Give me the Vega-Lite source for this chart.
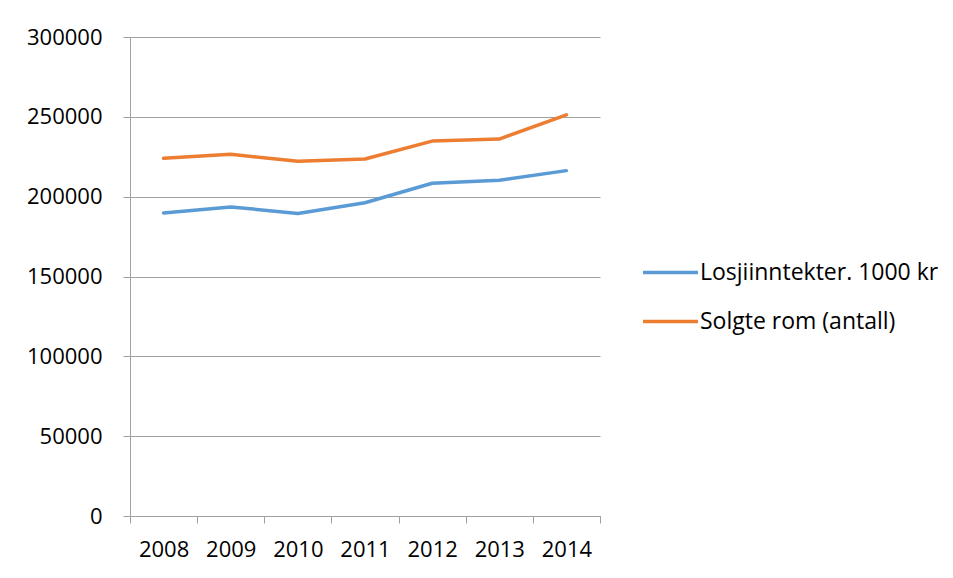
{
  "$schema": "https://vega.github.io/schema/vega-lite/v6.json",
  "autosize": {"type": "none"},
  "width": 470,
  "height": 479,
  "padding": {"left": 130, "top": 37, "right": 353, "bottom": 62},
  "background": "white",
  "config": {
    "view": {"stroke": null},
    "font": "Open Sans",
    "axis": {"labelFont": "Open Sans", "labelFontSize": 22, "labelColor": "#000000", "domainColor": "#A0A0A0", "tickColor": "#A0A0A0", "gridColor": "#A0A0A0", "domainWidth": 1, "tickWidth": 1, "gridWidth": 1, "tickSize": 7, "title": null}
  },
  "data": {
    "values": [
      {"year": "2008", "series": "Losjiinntekter. 1000 kr", "value": 189800},
      {"year": "2009", "series": "Losjiinntekter. 1000 kr", "value": 193600},
      {"year": "2010", "series": "Losjiinntekter. 1000 kr", "value": 189500},
      {"year": "2011", "series": "Losjiinntekter. 1000 kr", "value": 196200},
      {"year": "2012", "series": "Losjiinntekter. 1000 kr", "value": 208400},
      {"year": "2013", "series": "Losjiinntekter. 1000 kr", "value": 210300},
      {"year": "2014", "series": "Losjiinntekter. 1000 kr", "value": 216300},
      {"year": "2008", "series": "Solgte rom (antall)", "value": 224000},
      {"year": "2009", "series": "Solgte rom (antall)", "value": 226500},
      {"year": "2010", "series": "Solgte rom (antall)", "value": 222200},
      {"year": "2011", "series": "Solgte rom (antall)", "value": 223600},
      {"year": "2012", "series": "Solgte rom (antall)", "value": 234800},
      {"year": "2013", "series": "Solgte rom (antall)", "value": 236100},
      {"year": "2014", "series": "Solgte rom (antall)", "value": 251200}
    ]
  },
  "mark": {"type": "line", "strokeWidth": 3.5, "strokeCap": "round", "strokeJoin": "round"},
  "encoding": {
    "x": {
      "field": "year", "type": "ordinal",
      "scale": {"type": "band", "paddingInner": 0, "paddingOuter": 0},
      "axis": {"labelAngle": 0, "tickBand": "extent", "grid": false, "labelPadding": 16}
    },
    "y": {
      "field": "value", "type": "quantitative",
      "scale": {"domain": [0, 300000], "nice": false},
      "axis": {"values": [0, 50000, 100000, 150000, 200000, 250000, 300000], "format": "d", "labelPadding": 21, "grid": true}
    },
    "color": {
      "field": "series", "type": "nominal",
      "scale": {"domain": ["Losjiinntekter. 1000 kr", "Solgte rom (antall)"], "range": ["#5B9BD5", "#ED7D31"]},
      "legend": {
        "title": null, "orient": "none", "legendX": 511, "legendY": 206,
        "padding": 0, "symbolType": "stroke", "symbolSize": 3025, "symbolStrokeWidth": 3.5,
        "labelFont": "Open Sans", "labelFontSize": 23, "labelColor": "#000000", "labelOffset": 0,
        "labelLimit": 400, "rowPadding": 7
      }
    }
  }
}
